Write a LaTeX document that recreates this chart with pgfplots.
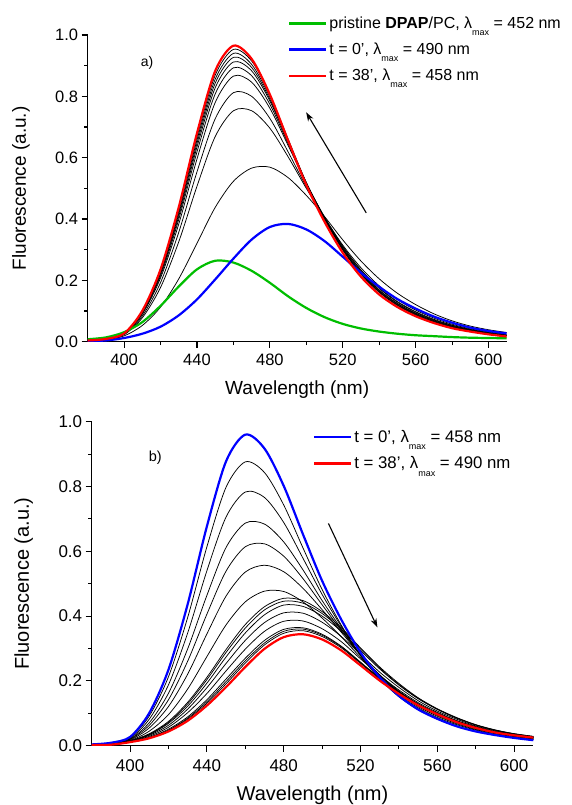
\documentclass[border=0pt]{standalone}
\usepackage{pgfplots}
\pgfplotsset{compat=1.18}
\usepackage{pgfplotstable}
\usepackage{fontspec}
\setmainfont{Liberation Sans}
\usetikzlibrary{arrows.meta}
\definecolor{cgreen}{RGB}{0,190,0}
\definecolor{cblue}{RGB}{0,0,255}
\definecolor{cred}{RGB}{255,0,0}
\newcommand{\lmax}{λ\raisebox{-0.45em}{\fontsize{9}{9}\selectfont max}}

\pgfplotstableread{
x red blue green k1 k2 k3 k4 k5 k6 k7 k8 k9
380 0.004 0.002 0.008 0.003 0.003 0.003 0.004 0.004 0.004 0.004 0.004 0.004
390 0.009 0.004 0.014 0.006 0.007 0.008 0.008 0.008 0.008 0.009 0.009 0.009
400 0.027 0.012 0.031 0.019 0.023 0.024 0.025 0.026 0.026 0.027 0.027 0.027
410 0.101 0.026 0.064 0.053 0.078 0.084 0.090 0.093 0.095 0.097 0.098 0.100
420 0.236 0.049 0.117 0.113 0.177 0.193 0.208 0.215 0.221 0.225 0.229 0.232
430 0.439 0.086 0.180 0.205 0.326 0.357 0.384 0.399 0.409 0.417 0.424 0.431
440 0.680 0.138 0.236 0.321 0.507 0.554 0.596 0.619 0.635 0.647 0.658 0.668
450 0.883 0.203 0.264 0.438 0.669 0.727 0.780 0.808 0.828 0.843 0.856 0.869
460 0.965 0.271 0.258 0.523 0.753 0.812 0.866 0.893 0.912 0.927 0.940 0.953
470 0.922 0.333 0.231 0.566 0.753 0.800 0.846 0.867 0.883 0.894 0.904 0.915
480 0.806 0.374 0.192 0.569 0.696 0.728 0.761 0.774 0.785 0.791 0.798 0.805
490 0.656 0.384 0.148 0.535 0.603 0.619 0.640 0.646 0.651 0.654 0.657 0.661
500 0.511 0.366 0.110 0.477 0.500 0.505 0.516 0.517 0.518 0.517 0.518 0.519
510 0.391 0.328 0.080 0.408 0.404 0.402 0.407 0.404 0.404 0.401 0.400 0.400
520 0.290 0.277 0.058 0.332 0.315 0.310 0.311 0.306 0.304 0.301 0.300 0.299
530 0.212 0.225 0.043 0.263 0.241 0.234 0.233 0.229 0.226 0.223 0.222 0.220
540 0.154 0.179 0.033 0.205 0.182 0.176 0.174 0.169 0.167 0.164 0.163 0.161
550 0.113 0.139 0.026 0.158 0.137 0.131 0.129 0.125 0.124 0.121 0.120 0.118
560 0.083 0.108 0.021 0.121 0.103 0.098 0.096 0.093 0.092 0.090 0.088 0.087
570 0.061 0.082 0.018 0.091 0.077 0.073 0.071 0.069 0.068 0.066 0.065 0.064
580 0.044 0.062 0.015 0.068 0.057 0.054 0.053 0.051 0.050 0.048 0.048 0.047
590 0.033 0.046 0.013 0.051 0.042 0.040 0.039 0.038 0.037 0.036 0.035 0.035
600 0.024 0.035 0.012 0.039 0.032 0.030 0.029 0.028 0.027 0.027 0.026 0.026
610 0.017 0.027 0.011 0.030 0.024 0.022 0.021 0.020 0.020 0.019 0.019 0.019
}\toptable

\pgfplotstableread{
x blue red k1 k2 k3 k4 k5 k6 k7 k8 k9 k10 k11 k12 k13 k14
380 0.004 0.002 0.004 0.003 0.003 0.003 0.002 0.002 0.002 0.002 0.002 0.002 0.002 0.002 0.002 0.002
390 0.009 0.003 0.008 0.007 0.007 0.006 0.006 0.005 0.005 0.005 0.004 0.004 0.004 0.004 0.004 0.004
400 0.027 0.011 0.025 0.023 0.021 0.020 0.018 0.016 0.015 0.015 0.014 0.014 0.013 0.012 0.012 0.011
410 0.101 0.023 0.092 0.082 0.071 0.063 0.055 0.045 0.037 0.035 0.034 0.032 0.029 0.026 0.025 0.024
420 0.235 0.044 0.213 0.188 0.162 0.142 0.121 0.096 0.075 0.072 0.069 0.063 0.057 0.051 0.048 0.047
430 0.437 0.077 0.396 0.348 0.299 0.261 0.221 0.175 0.134 0.129 0.122 0.113 0.102 0.089 0.085 0.082
440 0.677 0.124 0.614 0.540 0.464 0.406 0.345 0.275 0.211 0.204 0.193 0.179 0.161 0.142 0.136 0.131
450 0.878 0.181 0.798 0.706 0.612 0.539 0.462 0.373 0.297 0.288 0.274 0.254 0.231 0.206 0.198 0.191
460 0.960 0.243 0.876 0.783 0.687 0.614 0.536 0.444 0.374 0.363 0.348 0.325 0.298 0.270 0.262 0.255
470 0.917 0.299 0.843 0.766 0.684 0.623 0.557 0.477 0.429 0.419 0.404 0.380 0.353 0.325 0.317 0.311
480 0.802 0.335 0.743 0.689 0.629 0.585 0.537 0.476 0.455 0.446 0.434 0.410 0.384 0.359 0.353 0.347
490 0.653 0.344 0.611 0.579 0.543 0.516 0.486 0.444 0.448 0.440 0.430 0.409 0.385 0.364 0.360 0.355
500 0.509 0.328 0.482 0.467 0.448 0.435 0.420 0.394 0.414 0.408 0.400 0.381 0.361 0.344 0.341 0.337
510 0.389 0.294 0.372 0.368 0.361 0.356 0.350 0.336 0.364 0.359 0.353 0.337 0.321 0.307 0.305 0.302
520 0.288 0.248 0.278 0.281 0.280 0.281 0.280 0.273 0.302 0.299 0.294 0.282 0.268 0.258 0.256 0.254
530 0.211 0.201 0.206 0.211 0.213 0.217 0.219 0.216 0.243 0.240 0.237 0.227 0.217 0.209 0.208 0.206
540 0.154 0.160 0.151 0.157 0.161 0.165 0.168 0.168 0.192 0.189 0.187 0.180 0.172 0.166 0.165 0.164
550 0.112 0.125 0.111 0.117 0.121 0.125 0.128 0.129 0.148 0.147 0.145 0.139 0.133 0.129 0.128 0.128
560 0.083 0.097 0.082 0.087 0.091 0.094 0.098 0.099 0.114 0.113 0.112 0.107 0.103 0.100 0.099 0.099
570 0.060 0.073 0.060 0.065 0.068 0.071 0.073 0.074 0.087 0.086 0.085 0.082 0.078 0.076 0.076 0.075
580 0.044 0.055 0.044 0.048 0.050 0.052 0.055 0.056 0.065 0.064 0.064 0.061 0.059 0.057 0.057 0.056
590 0.033 0.041 0.033 0.035 0.037 0.039 0.041 0.042 0.049 0.048 0.048 0.046 0.044 0.043 0.043 0.042
600 0.024 0.032 0.024 0.026 0.028 0.029 0.031 0.032 0.037 0.037 0.036 0.035 0.034 0.033 0.033 0.032
610 0.017 0.025 0.018 0.019 0.021 0.022 0.023 0.024 0.029 0.028 0.028 0.027 0.026 0.025 0.025 0.025
}\bottable

\pgfplotsset{
  spec/.style={
    scale only axis,
    xmin=380, xmax=610, ymin=0, ymax=1.0,
    axis x line*=bottom, axis y line*=left,
    axis line style={-, line width=1.1pt, black},
    xtick={400,440,480,520,560,600},
    ytick={0,0.2,0.4,0.6,0.8,1.0},
    minor x tick num=1, minor y tick num=1,
    tick align=outside,
    major tick length=6pt, minor tick length=3.5pt,
    tick style={black, line width=1.1pt},
    /pgf/number format/fixed,
    /pgf/number format/1000 sep={},
    /pgf/number format/assume math mode=true,
    yticklabel={\pgfmathprintnumber[fixed, fixed zerofill, precision=1]{\tick}},
    xlabel={Wavelength (nm)},
    ylabel={Fluorescence (a.u.)},
    legend style={draw=none, fill=none, anchor=north west, legend cell align=left,
      inner sep=0pt},
    legend image code/.code={\draw[##1] (0pt,0pt) -- (37pt,0pt);},
  },
  blk/.style={black, line width=0.75pt, smooth, forget plot},
  col/.style={line width=2.2pt, smooth},
}

\begin{document}
\begin{tikzpicture}[x=1pt,y=1pt]
\path[use as bounding box] (0,0) rectangle (572,805);

% ---------- panel a ----------
\begin{axis}[spec,
  at={(87.7pt,463.3pt)}, anchor=south west,
  width=419pt, height=306.7pt,
  tick label style={font=\fontsize{16.5}{19}\selectfont},
  xticklabel style={yshift=-3pt},
  label style={font=\fontsize{19}{22}\selectfont},
  xlabel style={at={(axis description cs:0.5,-0.157)}, anchor=center},
  ylabel style={at={(axis description cs:-0.159,0.5)}, anchor=center},
  legend style={at={(axis description cs:0.478,1.066)}, font=\fontsize{16}{19}\selectfont, row sep=9pt},
]
\pgfplotsinvokeforeach{k1,k2,k3,k4,k5,k6,k7,k8,k9}{
  \addplot[blk] table[x=x,y=#1] {\toptable};
}
\addplot[col, cgreen] table[x=x,y=green] {\toptable};
\addlegendentry{pristine \textbf{DPAP}/PC, \lmax{} = 452 nm}
\addplot[col, cblue] table[x=x,y=blue] {\toptable};
\addlegendentry{t = 0’, \lmax{} = 490 nm}
\addplot[col, cred] table[x=x,y=red] {\toptable};
\addlegendentry{t = 38’, \lmax{} = 458 nm}
\node[font=\fontsize{14}{16}\selectfont] at (axis cs:412.6,0.91) {a)};
\draw[-{Stealth[length=9pt,width=6pt]}, line width=1.1pt] (axis cs:532.9,0.42) -- (axis cs:499.9,0.748);
\end{axis}

% ---------- panel b ----------
\begin{axis}[spec,
  at={(91.7pt,59.3pt)}, anchor=south west,
  width=441.6pt, height=324pt,
  tick label style={font=\fontsize{17}{20}\selectfont},
  xticklabel style={yshift=-4pt},
  label style={font=\fontsize{20}{23}\selectfont},
  xlabel style={at={(axis description cs:0.5,-0.154)}, anchor=center},
  ylabel style={at={(axis description cs:-0.154,0.5)}, anchor=center},
  legend style={at={(axis description cs:0.501,0.981)}, font=\fontsize{16.8}{20}\selectfont, row sep=9pt},
]
\pgfplotsinvokeforeach{k1,k2,k3,k4,k5,k6,k7,k8,k9,k10,k11,k12,k13,k14}{
  \addplot[blk] table[x=x,y=#1] {\bottable};
}
\addplot[col, cblue] table[x=x,y=blue] {\bottable};
\addlegendentry{t = 0’, \lmax{} = 458 nm}
\addplot[col, cred] table[x=x,y=red] {\bottable};
\addlegendentry{t = 38’, \lmax{} = 490 nm}
\node[font=\fontsize{14.5}{16}\selectfont] at (axis cs:413.1,0.889) {b)};
\draw[-{Stealth[length=9pt,width=6pt]}, line width=1.1pt] (axis cs:503.3,0.686) -- (axis cs:528.8,0.365);
\end{axis}
\end{tikzpicture}
\end{document}
